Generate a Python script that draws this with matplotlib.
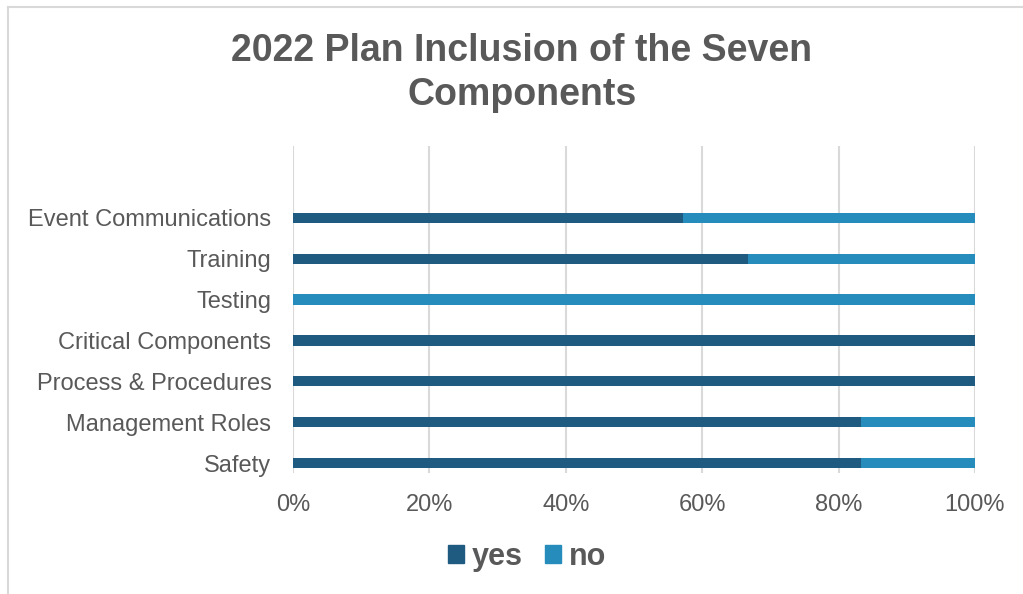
import matplotlib.pyplot as plt
from matplotlib.lines import Line2D
from matplotlib.patches import Patch

# plan components, listed bottom to top
components = ["Safety", "Management Roles", "Process & Procedures",
              "Critical Components", "Testing", "Training", "Event Communications"]
yes_share = [5 / 6, 5 / 6, 1.0, 1.0, 0.0, 2 / 3, 4 / 7]
no_share = [1 / 6, 1 / 6, 0.0, 0.0, 1.0, 1 / 3, 3 / 7]
x_ticks = [0, 0.2, 0.4, 0.6, 0.8, 1.0]
x_tick_labels = ["0%", "20%", "40%", "60%", "80%", "100%"]

YES_COLOR = "#1f5b81"
NO_COLOR = "#258cbb"
TEXT = "#595959"
GRID = "#d9d9d9"

plt.rcParams["font.family"] = ["Liberation Sans", "DejaVu Sans"]

fig = plt.figure(figsize=(10.23, 5.94), dpi=100)
W, H = 1023, 594
ax = fig.add_axes([293 / W, (H - 473) / H, (975 - 293) / W, (473 - 146) / H])

pos = list(range(len(components)))
ax.barh(pos, yes_share, height=0.25, color=YES_COLOR, label="yes", zorder=3)
ax.barh(pos, no_share, left=yes_share, height=0.25, color=NO_COLOR, label="no", zorder=3)

ax.set_xlim(0, 1)
ax.set_ylim(-0.244, 7.756)
ax.set_xticks(x_ticks)
ax.set_xticklabels(x_tick_labels)
ax.set_yticks(pos)
ax.set_yticklabels(components)
ax.tick_params(axis="both", length=0, labelsize=17, colors=TEXT)
ax.tick_params(axis="y", pad=15.5)
ax.tick_params(axis="x", pad=15)
ax.grid(axis="x", color=GRID, linewidth=1.5, zorder=0)
for side in ax.spines.values():
    side.set_visible(False)

fig.text(522 / W, 1 - 73 / H, "2022 Plan Inclusion of the Seven\nComponents",
         ha="center", va="center", fontsize=27, fontweight="bold", color=TEXT,
         linespacing=1.3)

handles = [Patch(color=YES_COLOR), Patch(color=NO_COLOR)]
fig.legend(handles, ["yes", "no"], loc="center", bbox_to_anchor=(527 / W, 1 - 557 / H),
           ncol=2, frameon=False, handlelength=0.55, handleheight=0.55,
           handletextpad=0.25, columnspacing=0.7,
           prop={"size": 22, "weight": "bold"}, labelcolor=TEXT)

# thin outline of the chart area
fig.add_artist(Line2D([8 / W, 8 / W], [0, 1 - 7 / H], color=GRID, linewidth=1.5))
fig.add_artist(Line2D([8 / W, 1], [1 - 7 / H, 1 - 7 / H], color=GRID, linewidth=1.5))

fig.savefig("out.png", dpi=100)
